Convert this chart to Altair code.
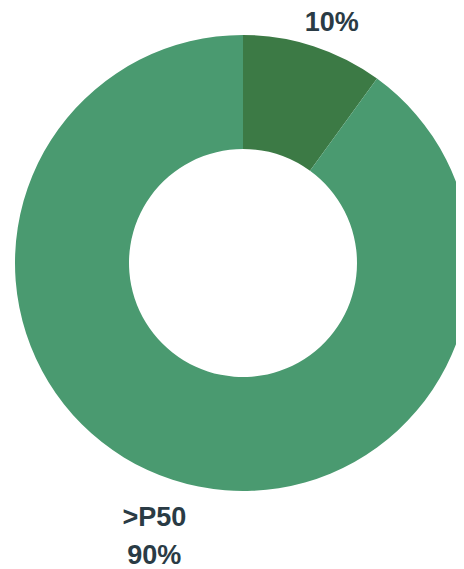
import altair as alt
import pandas as pd

categories = ["<P50", ">P50"]
values = [10, 90]
colors = ["#3c7a45", "#4a9a70"]

df = pd.DataFrame({"cat": categories, "val": values, "order": [0, 1]})

arcs = alt.Chart(df).mark_arc(innerRadius=114, outerRadius=228, stroke=None).encode(
    theta=alt.Theta("val:Q", stack=True),
    order=alt.Order("order:Q"),
    x=alt.value(235), y=alt.value(255),
    color=alt.Color("cat:N", scale=alt.Scale(domain=categories, range=colors), legend=None),
)

text_style = dict(
    radius=287, fontSize=27, fontWeight="bold", font="Liberation Sans",
    color="#2a3b45", lineBreak="\n", lineHeight=38, baseline="middle", align="center",
)

text_base = alt.Chart(df).transform_window(
    cum="sum(val)", sort=[alt.SortField("order")]
).transform_calculate(
    mid="datum.cum - datum.val / 2",
    label="datum.cat + '\\n' + datum.val + '%'",
    pct="datum.val + '%'",
)

theta_enc = alt.Theta("mid:Q", scale=alt.Scale(domain=[0, 100], range=[0, 6.283185307179586]), stack=None)

labels_bottom = text_base.transform_filter("datum.order == 1").mark_text(dy=-18, **text_style).encode(
    theta=theta_enc, x=alt.value(235), y=alt.value(255), text="label:N",
)

# top slice label: its category line falls above the visible area, only the value shows
labels_top = text_base.transform_filter("datum.order == 0").mark_text(dy=33, **text_style).encode(
    theta=theta_enc, x=alt.value(235), y=alt.value(255), text="pct:N",
)

chart = (arcs + labels_bottom + labels_top).properties(
    width=448, height=561, padding=0, autosize=alt.AutoSizeParams(type="none")
).configure_view(stroke=None)

chart.save("out.html", embed_options={"renderer": "svg", "actions": False})
